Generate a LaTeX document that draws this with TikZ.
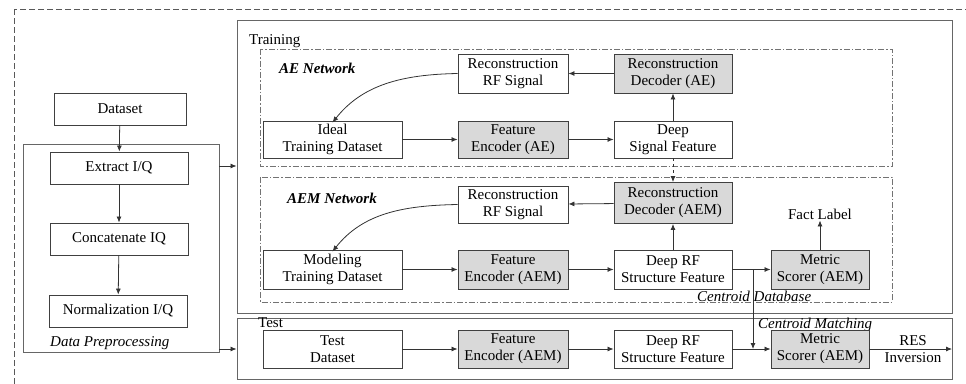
\documentclass[tikz,border=0pt]{standalone}
\usepackage{fontspec}
\setmainfont{Liberation Serif}
\usetikzlibrary{arrows.meta,calc}
\begin{document}
\begin{tikzpicture}[x=1pt,y=-1pt,
  font=\fontsize{15}{17}\selectfont,
  box/.style={draw=black!75,line width=0.9pt,align=center,inner sep=0pt},
  wbox/.style={box,fill=white},
  gbox/.style={box,fill=black!15},
  cont/.style={draw=black!60,line width=0.9pt,inner sep=0pt},
  dd/.style={draw=black!55,line width=0.8pt,dash pattern=on 6pt off 2pt on 1.5pt off 2pt},
  arr/.style={draw=black!80,line width=0.8pt,-{Latex[length=6pt,width=5pt]}},
  lbl/.style={inner sep=0pt,anchor=west}]
\useasboundingbox (0,0) rectangle (966,383);
\clip (0,0) rectangle (966,383);
% outer dashed frame
\draw[draw=black!65,line width=0.8pt,dash pattern=on 6pt off 3pt] (14,9) rectangle (975,395);
% containers
\node[cont,minimum width=196pt,minimum height=208pt] (pre) at (121,248) {};
\node[cont,minimum width=715pt,minimum height=293pt] (train) at (594.5,166.5) {};
\node[cont,minimum width=715pt,minimum height=61pt] (test) at (594.5,348.5) {};
\draw[dd] (260,49) rectangle (892,166);
\draw[dd] (260,177) rectangle (892,302);
% labels
\node[lbl] (ltrain) at (249,41) {Training};
\node[lbl] (ltest) at (258,323) {Test};
\node[lbl,font=\fontsize{15}{17}\selectfont\bfseries\itshape] (lae) at (279,68) {AE Network};
\node[lbl,font=\fontsize{15}{17}\selectfont\bfseries\itshape] (laem) at (287,198) {AEM Network};
\node[lbl,font=\fontsize{15}{17}\selectfont\itshape] (ldp) at (50,343) {Data Preprocessing};
\node[lbl,font=\fontsize{15}{17}\selectfont\itshape] (lcd) at (697,296) {Centroid Database};
\node[lbl,font=\fontsize{15}{17}\selectfont\itshape] (lcm) at (758,325) {Centroid Matching};
% preprocessing
\node[wbox,minimum width=132pt,minimum height=32pt] (ds) at (120,109) {Dataset};
\node[wbox,minimum width=138pt,minimum height=32pt] (ext) at (119,168) {Extract I/Q};
\node[wbox,minimum width=138pt,minimum height=32pt] (cat) at (119,239) {Concatenate IQ};
\node[wbox,minimum width=138pt,minimum height=32pt] (norm) at (118,311) {Normalization I/Q};
\draw[arr] (ds) -- (ext);
\draw[arr] (ext) -- (cat);
\draw[arr] (cat) -- (norm);
\draw[arr] (pre.east |- 0,166) -- (train.west |- 0,166);
\draw[arr] (pre.east |- 0,349) -- (test.west |- 0,349);
% AE row
\node[wbox,minimum width=139pt,minimum height=37pt] (ideal) at (332.5,139.5) {Ideal\\Training Dataset};
\node[gbox,minimum width=110pt,minimum height=37pt] (fenc1) at (513,139.5) {Feature\\Encoder (AE)};
\node[wbox,minimum width=118pt,minimum height=37pt] (dsf) at (673,139.5) {Deep\\Signal Feature};
\node[wbox,minimum width=110pt,minimum height=39pt] (rrf1) at (513,73.5) {Reconstruction\\RF Signal};
\node[gbox,minimum width=118pt,minimum height=39pt] (dec1) at (673,73.5) {Reconstruction\\Decoder (AE)};
\draw[arr] (ideal) -- (fenc1);
\draw[arr] (fenc1) -- (dsf);
\draw[arr] (dsf) -- (dec1);
\draw[arr] (dec1) -- (rrf1);
\draw[arr] (rrf1.west) .. controls +(-55,1) and +(30,-38) .. ([yshift=-2pt]ideal.north);
% AEM row
\node[wbox,minimum width=110pt,minimum height=37pt] (rrf2) at (513,204.5) {Reconstruction\\RF Signal};
\node[gbox,minimum width=118pt,minimum height=41pt] (dec2) at (673,203) {Reconstruction\\Decoder (AEM)};
\node[wbox,minimum width=139pt,minimum height=39pt] (model) at (332.5,269.5) {Modeling\\Training Dataset};
\node[gbox,minimum width=110pt,minimum height=39pt] (fenc2) at (513,269.5) {Feature\\Encoder (AEM)};
\node[wbox,minimum width=118pt,minimum height=39pt] (drf2) at (673,269.5) {Deep RF\\Structure Feature};
\node[gbox,minimum width=98pt,minimum height=39pt] (ms2) at (820,269.5) {Metric\\Scorer (AEM)};
\node[inner sep=1pt] (fact) at (820,214) {Fact Label};
\draw[arr,dashed] (dsf) -- (dec2);
\draw[arr] (model) -- (fenc2);
\draw[arr] (fenc2) -- (drf2);
\draw[arr] (drf2) -- (dec2);
\draw[arr] (dec2) -- (rrf2);
\draw[arr] (rrf2.west) .. controls +(-55,1) and +(30,-38) .. ([yshift=-2pt]model.north);
\draw[arr] (drf2) -- (ms2);
\draw[arr] (ms2) -- (fact);
% Test row
\node[wbox,minimum width=139pt,minimum height=38pt] (tds) at (332.5,349) {Test\\Dataset};
\node[gbox,minimum width=110pt,minimum height=38pt] (fenc3) at (513,349) {Feature\\Encoder (AEM)};
\node[wbox,minimum width=118pt,minimum height=38pt] (drf3) at (673,349) {Deep RF\\Structure Feature};
\node[gbox,minimum width=98pt,minimum height=38pt] (ms3) at (820,349) {Metric\\Scorer (AEM)};
\node[align=center,inner sep=0pt] (res) at (913,349.5) {RES\\Inversion};
\coordinate (resend) at (952,349);
\draw[arr] (tds) -- (fenc3);
\draw[arr] (fenc3) -- (drf3);
\draw[arr] (drf3) -- (ms3);
\draw[arr] (ms3) -- (resend);
\coordinate (br) at (753,269.5);
\draw[arr] (br) -- (br |- drf3.east);
\end{tikzpicture}
\end{document}
